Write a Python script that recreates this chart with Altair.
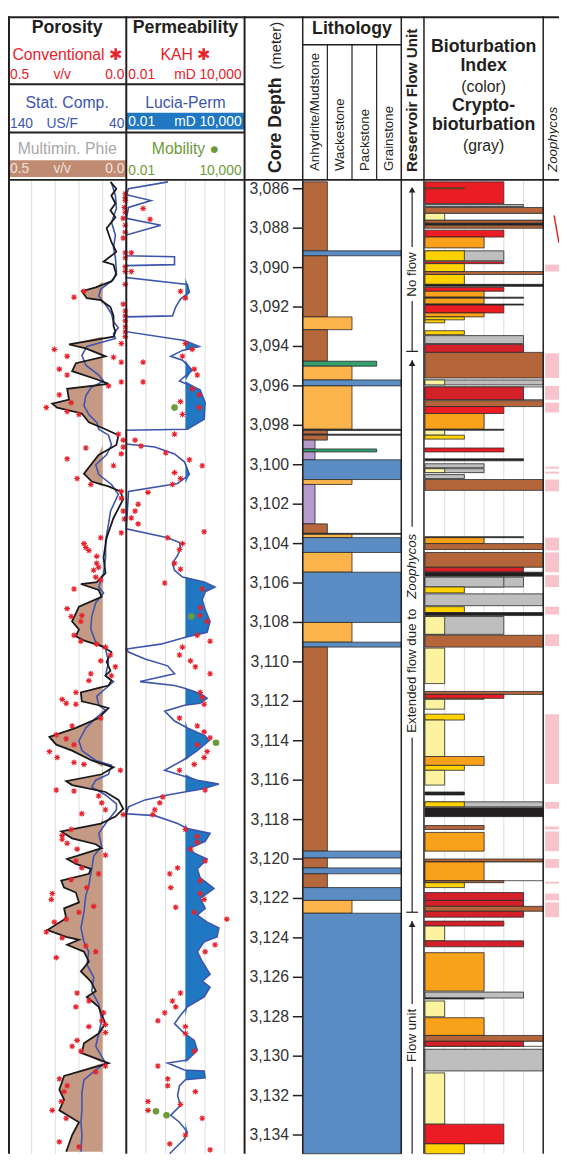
import altair as alt
import pandas as pd

# ---------------- data ----------------
# Multimineral effective porosity (v/v) - black curve
phie_depth = [3085.65, 3086.0, 3086.35, 3086.75, 3087.1, 3087.45, 3088.0, 3088.7, 3089.2, 3089.7, 3089.85, 3090.35,
              3090.7, 3091.0, 3091.2, 3091.55, 3091.65, 3092.0, 3092.45, 3092.95, 3093.25, 3093.5, 3093.9, 3094.1,
              3094.5, 3094.85, 3095.25, 3095.7, 3095.9, 3096.15, 3096.7, 3096.9, 3097.1, 3097.4, 3097.85, 3098.2,
              3098.5, 3099.0, 3099.5, 3100.45, 3100.85, 3101.1, 3101.35, 3101.75, 3102.7, 3103.7, 3104.7, 3105.5,
              3105.95, 3106.05, 3106.35, 3106.7, 3107.2, 3107.95, 3108.35, 3108.7, 3108.95, 3109.2, 3109.5, 3110.0,
              3110.45, 3110.7, 3110.95, 3111.2, 3111.55, 3112.0, 3112.2, 3112.35, 3112.85, 3113.35, 3113.8, 3114.2,
              3114.5, 3115.0, 3115.35, 3115.7, 3116.05, 3116.25, 3116.6, 3117.0, 3117.45, 3117.85, 3118.2, 3118.6,
              3118.95, 3119.25, 3119.45, 3120.0, 3120.25, 3120.5, 3120.75, 3121.1, 3121.45, 3121.7, 3122.2, 3122.5,
              3123.0, 3123.6, 3123.95, 3124.1, 3124.35, 3124.7, 3125.2, 3125.7, 3126.2, 3126.7, 3127.0, 3127.5,
              3128.35, 3128.85, 3129.35, 3129.85, 3130.35, 3131.0, 3131.7, 3132.2, 3132.75, 3133.35, 3134.0, 3134.85]
phie_val = [0.067, 0.042, 0.063, 0.046, 0.067, 0.046, 0.083, 0.063, 0.042, 0.096, 0.054, 0.042,
            0.063, 0.129, 0.188, 0.167, 0.108, 0.067, 0.054, 0.054, 0.046, 0.054, 0.242, 0.171,
            0.088, 0.213, 0.229, 0.117, 0.075, 0.25, 0.242, 0.313, 0.292, 0.188, 0.158, 0.088,
            0.033, 0.042, 0.117, 0.179, 0.146, 0.075, 0.025, 0.013, 0.054, 0.083, 0.096, 0.088,
            0.125, 0.192, 0.117, 0.104, 0.2, 0.229, 0.2, 0.213, 0.171, 0.104, 0.063, 0.083,
            0.067, 0.088, 0.063, 0.075, 0.192, 0.188, 0.117, 0.075, 0.117, 0.213, 0.325, 0.296,
            0.229, 0.146, 0.054, 0.104, 0.254, 0.229, 0.088, 0.033, 0.013, 0.046, 0.108, 0.275,
            0.229, 0.129, 0.104, 0.25, 0.213, 0.15, 0.158, 0.275, 0.263, 0.213, 0.2, 0.263,
            0.254, 0.333, 0.254, 0.2, 0.25, 0.179, 0.158, 0.192, 0.15, 0.129, 0.167, 0.117,
            0.088, 0.117, 0.179, 0.188, 0.075, 0.263, 0.283, 0.263, 0.283, 0.2, 0.229, 0.254]

# Statistical composite sonic (US/F) - blue curve in porosity track
sonic_depth = [3085.7, 3086.35, 3087.0, 3087.7, 3088.35, 3089.0, 3089.5, 3090.2, 3090.6, 3091.1, 3091.45, 3091.95,
               3092.35, 3092.75, 3093.05, 3093.35, 3093.6, 3094.0, 3094.45, 3094.95, 3095.45, 3095.75, 3096.1, 3096.5,
               3097.0, 3097.45, 3097.85, 3098.2, 3098.5, 3099.0, 3099.5, 3100.0, 3100.5, 3101.0, 3101.5, 3102.35,
               3103.0, 3103.85, 3104.7, 3105.5, 3106.2, 3106.5, 3107.0, 3107.7, 3108.35, 3109.0, 3109.35, 3110.0,
               3110.7, 3111.0, 3111.35, 3111.75, 3112.2, 3112.45, 3112.85, 3113.35, 3114.0, 3114.5, 3115.0, 3115.25,
               3115.7, 3116.0, 3116.35, 3116.75, 3117.2, 3117.5, 3118.2, 3118.7, 3119.35, 3119.85, 3120.5, 3121.35,
               3121.85, 3122.7, 3123.5, 3124.2, 3124.7, 3125.35, 3126.0, 3126.7, 3127.35, 3128.2, 3128.85, 3129.5,
               3130.35, 3130.7, 3131.2, 3131.85, 3132.7, 3133.35, 3134.0, 3134.85]
sonic_val = [52.5, 49.2, 48.3, 52.5, 49.2, 50.8, 49.2, 48.3, 50.8, 61.7, 63.3, 56.7,
             52.5, 50.8, 46.7, 50.8, 49.2, 73.3, 77.5, 74.2, 63.3, 59.2, 70.0, 74.2,
             75.8, 71.7, 65.0, 63.3, 55.0, 52.5, 56.7, 65.8, 63.3, 52.5, 46.7, 53.3,
             55.0, 57.5, 57.5, 59.2, 63.3, 59.2, 65.8, 69.2, 70.0, 65.8, 57.5, 55.0,
             57.5, 50.8, 57.5, 65.0, 63.3, 57.5, 65.8, 74.2, 80.0, 77.5, 65.8, 52.5,
             55.0, 65.8, 69.2, 57.5, 48.3, 48.3, 57.5, 63.3, 60.8, 67.5, 69.2, 71.7,
             74.2, 75.8, 78.3, 75.8, 71.7, 73.3, 67.5, 69.2, 63.3, 60.8, 63.3, 65.8,
             57.5, 65.8, 75.8, 77.5, 77.5, 78.3, 77.5, 78.3]

# Conventional core porosity (v/v) - red stars
core_por_depth = [3086.25, 3086.45, 3086.6, 3086.95, 3087.2, 3087.5, 3087.85, 3088.2, 3088.5, 3089.25, 3089.5, 3089.95,
                  3090.2, 3090.85, 3091.85, 3092.2, 3092.45, 3092.7, 3093.0, 3093.25, 3093.5, 3093.85, 3091.2, 3091.5,
                  3094.15, 3094.5, 3095.15, 3095.45, 3094.55, 3094.8, 3096.0, 3095.8, 3096.45, 3096.85, 3097.1, 3097.3,
                  3097.45, 3098.45, 3098.75, 3099.15, 3099.1, 3099.45, 3099.7, 3100.05, 3100.7, 3101.0, 3101.35, 3101.7,
                  3102.35, 3102.75, 3103.45, 3103.7, 3104.0, 3104.2, 3104.35, 3104.65, 3105.0, 3105.2, 3105.35, 3105.7,
                  3105.85, 3106.3, 3107.3, 3107.7, 3107.65, 3107.95, 3108.65, 3108.95, 3109.1, 3109.25, 3109.65, 3109.95,
                  3110.25, 3110.7, 3110.6, 3110.95, 3111.55, 3111.9, 3112.1, 3112.15, 3112.85, 3113.25, 3113.7, 3113.9,
                  3114.2, 3114.55, 3114.85, 3115.1, 3115.2, 3115.5, 3116.5, 3116.55, 3116.8, 3117.15, 3117.5, 3117.7,
                  3117.75, 3118.5, 3118.8, 3119.0, 3119.2, 3119.5, 3119.8, 3120.1, 3120.45, 3120.75, 3121.05, 3121.45,
                  3121.75, 3122.05, 3122.4, 3122.7, 3123.05, 3123.2, 3123.7, 3124.0, 3124.4, 3124.7, 3125.0, 3126.8,
                  3127.2, 3127.5, 3127.8, 3128.2, 3128.4, 3128.8, 3128.5, 3129.2, 3129.5, 3129.75, 3130.5, 3130.8,
                  3131.15, 3131.5, 3131.8, 3132.3, 3132.75, 3133.15, 3134.35, 3134.6]
core_por_val = [0.004, 0.004, 0.004, 0.008, 0.004, 0.013, 0.004, 0.004, 0.013, 0.004, 0.004, 0.004,
                0.004, 0.004, 0.013, 0.004, 0.004, 0.004, 0.004, 0.004, 0.004, 0.021, 0.179, 0.221,
                0.304, 0.25, 0.283, 0.25, 0.054, 0.021, 0.075, 0.021, 0.283, 0.233, 0.338, 0.25,
                0.2, 0.033, 0.013, 0.171, 0.013, 0.021, 0.25, 0.054, 0.208, 0.15, 0.021, 0.021,
                0.013, 0.008, 0.021, 0.108, 0.179, 0.171, 0.158, 0.125, 0.125, 0.117, 0.138, 0.129,
                0.108, 0.221, 0.25, 0.233, 0.188, 0.192, 0.221, 0.192, 0.125, 0.088, 0.067, 0.108,
                0.046, 0.063, 0.15, 0.158, 0.213, 0.271, 0.254, 0.213, 0.108, 0.229, 0.296, 0.254,
                0.221, 0.325, 0.292, 0.221, 0.179, 0.025, 0.296, 0.221, 0.117, 0.104, 0.088, 0.188,
                0.013, 0.233, 0.271, 0.271, 0.25, 0.208, 0.088, 0.213, 0.188, 0.117, 0.233, 0.167,
                0.313, 0.317, 0.138, 0.2, 0.254, 0.304, 0.338, 0.271, 0.171, 0.129, 0.296, 0.208,
                0.158, 0.213, 0.096, 0.104, 0.088, 0.088, 0.158, 0.208, 0.229, 0.192, 0.088, 0.129,
                0.283, 0.25, 0.263, 0.275, 0.313, 0.254, 0.283, 0.2]

# Lucia permeability (mD) - blue curve in permeability track
perm_depth = [3085.65, 3086.0, 3086.3, 3086.6, 3086.95, 3087.5, 3087.85, 3088.35, 3089.4, 3089.45, 3089.85, 3089.9,
              3090.5, 3090.85, 3091.25, 3091.6, 3092.0, 3092.45, 3092.5, 3093.25, 3093.7, 3094.0, 3094.2, 3094.5,
              3094.7, 3095.2, 3095.75, 3096.2, 3096.85, 3097.7, 3098.2, 3098.25, 3098.95, 3099.1, 3099.45, 3099.85,
              3100.5, 3100.95, 3101.35, 3103.25, 3103.7, 3103.95, 3104.25, 3104.6, 3105.0, 3105.35, 3105.7, 3105.95,
              3106.2, 3106.45, 3106.85, 3107.35, 3107.95, 3108.5, 3108.75, 3109.1, 3109.35, 3109.5, 3109.85, 3110.2,
              3110.6, 3111.0, 3111.2, 3111.35, 3111.6, 3111.85, 3112.1, 3112.2, 3112.5, 3113.0, 3113.35, 3113.75,
              3114.0, 3114.5, 3115.0, 3115.5, 3115.7, 3116.0, 3116.2, 3116.45, 3116.6, 3116.75, 3117.0, 3117.35,
              3117.7, 3117.8, 3118.2, 3118.45, 3118.7, 3119.1, 3119.45, 3119.7, 3120.0, 3120.5, 3120.95, 3121.5,
              3122.0, 3122.5, 3122.85, 3123.2, 3123.5, 3123.95, 3124.2, 3124.7, 3125.2, 3125.85, 3126.2, 3126.5,
              3127.0, 3127.5, 3128.0, 3128.35, 3128.85, 3129.2, 3129.7, 3130.2, 3130.35, 3130.7, 3130.75, 3131.1,
              3131.2, 3131.5, 3132.0, 3132.5, 3133.0, 3133.35, 3133.85, 3134.2, 3134.7, 3134.95]
perm_val = [1.3, 0.013, 0.01, 0.18, 0.013, 0.01, 0.56, 0.01, 0.01, 2.8, 2.8, 0.01,
            0.01, 12.6, 16, 5.6, 3.2, 2.2, 0.01, 0.01, 8.9, 50, 7.1, 1.8,
            7.1, 22, 5, 56, 100, 89, 12.6, 0.01, 0.01, 0.28, 2.8, 8.9,
            16, 4, 0.013, 0.01, 1.26, 5, 5.6, 4, 2.2, 2.8, 7.1, 89,
            316, 100, 71, 100, 178, 126, 10, 0.56, 0.01, 0.013, 0.089, 1.26,
            2.8, 0.05, 2.8, 10, 56, 126, 56, 8.9, 0.89, 2.8, 12.6, 100,
            158, 40, 7.1, 0.89, 4, 40, 500, 71, 8.9, 1.26, 0.089, 0.013,
            0.01, 0.28, 4, 12.6, 178, 100, 16, 28, 126, 40, 56, 282,
            56, 100, 40, 126, 500, 400, 89, 40, 71, 178, 71, 178,
            89, 12.6, 5, 2.8, 8.9, 28, 40, 12.6, 1.26, 8.9, 89, 100,
            10, 5, 4, 5.6, 1.8, 5, 12.6, 8.9, 2.8, 1.6]

# KAH core permeability (mD) - red stars
kah_depth = [3087.0, 3087.55, 3089.25, 3090.2, 3091.2, 3091.55, 3093.85, 3094.15, 3094.5, 3094.8, 3095.15, 3095.45,
             3095.8, 3096.15, 3096.45, 3096.8, 3097.45, 3097.1, 3098.45, 3098.75, 3099.05, 3099.4, 3099.75, 3100.05,
             3100.4, 3100.7, 3101.0, 3101.4, 3102.0, 3102.35, 3102.7, 3103.0, 3103.4, 3103.7, 3104.0, 3104.3,
             3105.0, 3105.3, 3106.0, 3106.3, 3107.25, 3107.65, 3107.95, 3108.65, 3108.95, 3109.25, 3109.65, 3109.95,
             3110.25, 3110.6, 3111.55, 3111.8, 3112.15, 3112.85, 3113.25, 3113.55, 3113.85, 3114.2, 3114.55, 3114.85,
             3115.2, 3115.5, 3116.5, 3116.85, 3117.15, 3117.5, 3117.75, 3118.5, 3118.85, 3119.15, 3119.5, 3120.45,
             3120.75, 3120.1, 3121.45, 3121.1, 3121.75, 3122.05, 3122.45, 3122.7, 3123.05, 3124.35, 3124.7, 3126.8,
             3127.2, 3127.5, 3127.8, 3128.2, 3128.5, 3128.85, 3129.75, 3130.5, 3131.15, 3131.5, 3131.8, 3132.3,
             3132.45, 3132.75, 3133.15, 3134.0, 3134.45, 3134.75]
kah_val = [0.071, 0.16, 0.018, 0.018, 5.6, 10, 10, 22, 7.1, 0.071, 28, 40,
           0.071, 22, 50, 5.6, 7.1, 50, 2.8, 0.028, 0.056, 1, 16, 71,
           2.8, 5.6, 2.2, 0.126, 0.04, 0.028, 0.018, 0.04, 89, 1.26, 7.1, 5,
           2.8, 5.6, 0.89, 71, 56, 56, 126, 40, 178, 7.1, 5, 18,
           32, 178, 56, 71, 89, 5, 40, 89, 178, 40, 126, 89,
           28, 5, 100, 0.71, 0.5, 0.28, 0.22, 10, 40, 40, 18, 4,
           1.6, 100, 1.8, 56, 56, 89, 3.2, 28, 1260, 316, 100, 5.6,
           2.2, 3.2, 0.89, 0.4, 10, 10, 28, 0.4, 1.26, 1.26, 32, 0.126,
           5.6, 0.126, 71, 10, 1.6, 178]

# Mobility (green dots)
mob_depth = [3097.1, 3107.7, 3114.1, 3132.8, 3133.0]
mob_val = [2.8, 20, 355, 0.32, 1.1]

# Lithology intervals: M mudstone, W wackestone, S green packstone-width bed, G grainstone, A anhydrite, K dark seam
lith_top = [3085.65, 3089.15, 3089.4, 3092.5, 3093.15, 3094.75, 3095.0, 3095.7, 3096.0, 3098.2, 3098.26, 3098.45,
            3098.5, 3098.75, 3099.2, 3099.35, 3099.75, 3100.75, 3101.0, 3103.0, 3103.48, 3103.53, 3103.7, 3104.45,
            3105.45, 3108.0, 3109.0, 3109.25, 3119.6, 3119.95, 3120.45, 3120.75, 3121.45, 3122.1, 3122.75]
lith_base = [3089.15, 3089.4, 3092.5, 3093.15, 3094.75, 3095.0, 3095.7, 3096.0, 3098.2, 3098.26, 3098.45, 3098.5,
             3098.75, 3099.2, 3099.35, 3099.75, 3100.75, 3101.0, 3103.0, 3103.48, 3103.53, 3103.7, 3104.45, 3105.45,
             3108.0, 3109.0, 3109.25, 3119.6, 3119.95, 3120.45, 3120.75, 3121.45, 3122.1, 3122.75, 3134.95]
lith_code = ["M", "G", "M", "W", "M", "S", "W", "G", "W", "K", "M", "K",
             "M", "A", "S", "A", "G", "W", "A", "M", "K", "W", "G", "W",
             "G", "W", "G", "M", "G", "M", "G", "M", "G", "W", "G"]
lith_rank = {"A": 0.5, "M": 1, "W": 2, "S": 3, "G": 4, "K": 4}

# Bioturbation index bars (top, base, index, colour class)
bio_top = [3085.65, 3085.95, 3086.8, 3086.95, 3087.25, 3087.25, 3087.6, 3087.75, 3087.85, 3088.1, 3088.45, 3089.15,
           3089.15, 3089.7, 3089.8, 3090.2, 3090.35, 3090.85, 3091.0, 3091.2, 3091.5, 3091.55, 3091.85, 3091.9,
           3092.3, 3092.5, 3092.65, 3093.2, 3093.45, 3093.9, 3094.3, 3095.7, 3095.7, 3096.05, 3096.05, 3096.75,
           3097.05, 3097.4, 3098.2, 3098.25, 3098.5, 3099.15, 3099.7, 3099.95, 3100.2, 3100.2, 3100.5, 3100.75,
           3103.65, 3103.7, 3104.0, 3104.45, 3105.2, 3105.45, 3105.7, 3105.7, 3106.2, 3106.55, 3107.2, 3107.5,
           3107.7, 3107.7, 3108.65, 3109.3, 3111.5, 3111.65, 3111.85, 3111.9, 3112.65, 3112.95, 3114.8, 3115.25,
           3115.5, 3116.6, 3117.1, 3117.1, 3117.4, 3118.3, 3118.65, 3120.0, 3120.15, 3120.15, 3121.1, 3121.2,
           3121.7, 3122.1, 3122.4, 3122.65, 3123.15, 3123.4, 3124.15, 3124.75, 3126.75, 3127.05, 3127.2, 3128.05,
           3128.95, 3129.25, 3129.25, 3129.65, 3130.85, 3133.45, 3134.45]
bio_base = [3086.75, 3086.0, 3086.9, 3087.25, 3087.6, 3087.6, 3087.75, 3087.85, 3088.0, 3088.45, 3089.0, 3089.65,
            3089.65, 3089.8, 3090.2, 3090.35, 3090.85, 3090.95, 3091.2, 3091.5, 3091.55, 3091.85, 3091.9, 3092.3,
            3092.5, 3092.65, 3092.8, 3093.4, 3093.85, 3094.3, 3095.6, 3095.95, 3095.95, 3096.7, 3096.7, 3097.05,
            3097.4, 3098.2, 3098.25, 3098.5, 3098.7, 3099.35, 3099.8, 3100.15, 3100.4, 3100.4, 3100.7, 3101.3,
            3103.7, 3104.0, 3104.3, 3105.2, 3105.45, 3105.65, 3106.2, 3106.2, 3106.5, 3107.15, 3107.5, 3107.65,
            3108.6, 3108.6, 3109.25, 3111.1, 3111.65, 3111.85, 3111.9, 3112.4, 3112.95, 3114.8, 3115.25, 3115.5,
            3116.25, 3116.75, 3117.35, 3117.35, 3117.85, 3118.5, 3119.6, 3120.15, 3121.1, 3121.1, 3121.2, 3121.45,
            3122.1, 3122.4, 3122.65, 3122.95, 3123.4, 3124.15, 3124.45, 3126.7, 3127.05, 3127.1, 3128.0, 3128.95,
            3129.25, 3129.5, 3129.5, 3130.75, 3133.45, 3134.45, 3134.95]
bio_index = [4, 2, 5, 6, 6, 1, 6, 6, 6, 4, 3, 4,
             2, 4, 2, 6, 2, 6, 4, 3, 5, 3, 5, 4,
             3, 2, 1, 2, 5, 5, 6, 6, 1, 6, 5, 6,
             4, 3, 4, 1, 2, 4, 5, 3, 3, 1, 2, 6,
             5, 3, 6, 6, 5, 6, 5, 4, 2, 6, 2, 6,
             4, 1, 6, 1, 6, 4, 3, 1, 2, 1, 3, 2,
             1, 2, 6, 2, 6, 3, 3, 6, 6, 3, 4, 2,
             5, 5, 6, 5, 4, 1, 5, 3, 5, 3, 1, 3,
             6, 6, 5, 6, 1, 4, 2]
bio_color = ["r", "o", "g", "b", "w", "p", "b", "k", "b", "r", "o", "g",
             "y", "r", "y", "b", "y", "k", "r", "o", "k", "o", "k", "r",
             "o", "y", "y", "y", "g", "d", "b", "g", "p", "w", "d", "b",
             "r", "o", "k", "p", "y", "r", "k", "g", "g", "p", "g", "b",
             "k", "o", "b", "b", "d", "k", "g", "g", "y", "g", "y", "k",
             "g", "p", "b", "p", "b", "r", "o", "p", "y", "p", "o", "y",
             "p", "k", "g", "y", "k", "b", "o", "b", "w", "o", "b", "y",
             "d", "d", "b", "d", "d", "p", "d", "o", "g", "k", "p", "o",
             "b", "w", "d", "g", "p", "r", "y"]

# Zoophycos occurrences (pink)
zoo_top = [3089.85, 3094.35, 3096.0, 3096.85, 3100.1, 3100.35, 3100.75, 3103.7, 3104.45, 3105.6, 3107.2, 3108.6,
           3112.65, 3117.1, 3118.35, 3118.6, 3120.0, 3121.15, 3121.75, 3122.2]
zoo_base = [3090.2, 3095.6, 3096.7, 3097.35, 3100.2, 3100.45, 3101.35, 3104.35, 3105.45, 3106.2, 3107.6, 3109.2,
            3116.2, 3117.45, 3118.5, 3119.6, 3120.45, 3121.25, 3122.1, 3122.95]
zc_depth = [3087.35, 3088.75]
zc_val = [0.225, 0.35]

depth_ticks = list(range(3086, 3135, 2))
por_grid = [0.4, 0.3, 0.2, 0.1]
perm_grid = [0.1, 1, 10, 100, 1000]
bio_grid = [1, 2, 3, 4, 5]

# ---------------- styling ----------------
FONT = "Liberation Sans"
DARK = "#231F20"
RED = "#E8212B"
BLUE = "#3D55AD"
PFILL = "#1F78C1"
PHIFILL = "#C59A84"
GREEN = "#6C9B3B"
GRID = "#DCDCDC"
PINK = "#F8C3CA"

ysc = alt.Scale(domain=[3085.65, 3134.95], range=[168, 1154], nice=False, zero=False)
por_sc = alt.Scale(domain=[0.5, 0.0], range=[0, 120], nice=False, zero=False)
son_sc = alt.Scale(domain=[140, 40], range=[0, 120], nice=False, zero=False)
perm_sc = alt.Scale(type="log", domain=[0.01, 10000], range=[120, 240], nice=False)
lith_sc = alt.Scale(domain=[0, 4], range=[299, 399], nice=False, zero=False)
bio_sc = alt.Scale(domain=[0, 6], range=[423, 543], nice=False, zero=False)
zoo_sc = alt.Scale(domain=[0, 1], range=[545, 561], nice=False, zero=False)
zc_sc = alt.Scale(domain=[0, 1], range=[545, 585], nice=False, zero=False)

def Y(f):
    return alt.Y(f, type="quantitative", scale=ysc, axis=None)

one = pd.DataFrame({"k": [0]})

def txt(x, y, s, size=14, color=DARK, weight="normal", align="center", angle=0, style="normal"):
    return alt.Chart(one).mark_text(fontSize=size, color=color, fontWeight=weight, align=align,
                                    angle=angle, fontStyle=style, baseline="middle", font=FONT).encode(
        x=alt.value(x), y=alt.value(y), text=alt.value(s))

def seg(x1, y1, x2, y2, color=DARK, w=1.5):
    return alt.Chart(one).mark_rule(color=color, strokeWidth=w).encode(
        x=alt.value(x1), y=alt.value(y1), x2=alt.value(x2), y2=alt.value(y2))

def box(x1, y1, x2, y2, color):
    return alt.Chart(one).mark_rect(color=color).encode(
        x=alt.value(x1), y=alt.value(y1), x2=alt.value(x2), y2=alt.value(y2))

phie_df = pd.DataFrame({"depth": phie_depth, "phie": phie_val})
sonic_df = pd.DataFrame({"depth": sonic_depth, "dt": sonic_val})
cpor_df = pd.DataFrame({"depth": core_por_depth, "por": core_por_val})
perm_df = pd.DataFrame({"depth": perm_depth, "k": perm_val})
kah_df = pd.DataFrame({"depth": kah_depth, "k": kah_val})
mob_df = pd.DataFrame({"depth": mob_depth, "k": mob_val})
lith_df = pd.DataFrame({"top": lith_top, "base": lith_base, "code": lith_code})
lith_df["rank"] = lith_df["code"].map(lith_rank)
lith_df["zero"] = 0
bio_df = pd.DataFrame({"top": bio_top, "base": bio_base, "idx": bio_index, "col": bio_color})
bio_df["zero"] = 0
zoo_df = pd.DataFrame({"top": zoo_top, "base": zoo_base})
zc_df = pd.DataFrame({"depth": zc_depth, "v": zc_val})
tick_df = pd.DataFrame({"depth": depth_ticks})

STAR = "M-1,0L1,0M0,-1L0,1M-0.72,-0.72L0.72,0.72M-0.72,0.72L0.72,-0.72"

layers = []
# grids
layers.append(alt.Chart(pd.DataFrame({"v": por_grid})).mark_rule(color=GRID, strokeWidth=1).encode(
    x=alt.X("v:Q", scale=por_sc, axis=None), y=alt.value(167), y2=alt.value(1154)))
layers.append(alt.Chart(pd.DataFrame({"v": perm_grid})).mark_rule(color=GRID, strokeWidth=1).encode(
    x=alt.X("v:Q", scale=perm_sc, axis=None), y=alt.value(167), y2=alt.value(1154)))
layers.append(alt.Chart(pd.DataFrame({"v": bio_grid})).mark_rule(color=GRID, strokeWidth=1).encode(
    x=alt.X("v:Q", scale=bio_sc, axis=None), y=alt.value(167), y2=alt.value(1154)))
# zoophycos
layers.append(alt.Chart(zoo_df).transform_calculate(a="0", b="1").mark_rect(color=PINK, clip=True).encode(
    y=Y("top"), y2="base", x=alt.X("a:Q", scale=zoo_sc, axis=None), x2="b:Q"))
layers.append(alt.Chart(zc_df).mark_line(color=RED, strokeWidth=1.5, clip=True).encode(
    y=Y("depth"), x=alt.X("v:Q", scale=zc_sc, axis=None), order=alt.Order("depth:Q")))
# fills
layers.append(alt.Chart(phie_df).transform_calculate(f="max(datum.phie, 0.1)", c="0.1").mark_area(
    orient="horizontal", color=PHIFILL).encode(
    y=Y("depth"), x=alt.X("f:Q", scale=por_sc, axis=None), x2="c:Q"))
layers.append(alt.Chart(perm_df).transform_calculate(f="max(datum.k, 10)", c="10").mark_area(
    orient="horizontal", color=PFILL).encode(
    y=Y("depth"), x=alt.X("f:Q", scale=perm_sc, axis=None), x2="c:Q"))
# curves
layers.append(alt.Chart(sonic_df).mark_line(color=BLUE, strokeWidth=1.6).encode(
    y=Y("depth"), x=alt.X("dt:Q", scale=son_sc, axis=None), order=alt.Order("depth:Q")))
layers.append(alt.Chart(phie_df).mark_line(color="#1a1a1a", strokeWidth=1.8).encode(
    y=Y("depth"), x=alt.X("phie:Q", scale=por_sc, axis=None), order=alt.Order("depth:Q")))
layers.append(alt.Chart(perm_df).mark_line(color=BLUE, strokeWidth=1.6).encode(
    y=Y("depth"), x=alt.X("k:Q", scale=perm_sc, axis=None), order=alt.Order("depth:Q")))
# points
layers.append(alt.Chart(cpor_df).mark_point(shape=STAR, size=34, filled=False, stroke=RED, strokeWidth=1.1, opacity=1).encode(
    y=Y("depth"), x=alt.X("por:Q", scale=por_sc, axis=None)))
layers.append(alt.Chart(kah_df).mark_point(shape=STAR, size=34, filled=False, stroke=RED, strokeWidth=1.1, opacity=1).encode(
    y=Y("depth"), x=alt.X("k:Q", scale=perm_sc, axis=None)))
layers.append(alt.Chart(mob_df).mark_circle(size=45, color=GREEN, opacity=1).encode(
    y=Y("depth"), x=alt.X("k:Q", scale=perm_sc, axis=None)))
# lithology
layers.append(alt.Chart(lith_df).mark_rect(stroke="#2a2a2a", strokeWidth=0.8).encode(
    y=Y("top"), y2="base", x=alt.X("zero:Q", scale=lith_sc, axis=None), x2="rank:Q",
    color=alt.Color("code:N", legend=None, scale=alt.Scale(
        domain=["M", "W", "S", "G", "A", "K"],
        range=["#B5683C", "#FBB44C", "#34A070", "#5B8DC4", "#B49BCB", "#2a2a2a"]))))
# bioturbation
layers.append(alt.Chart(bio_df).mark_rect(stroke="#2a2a2a", strokeWidth=0.8).encode(
    y=Y("top"), y2="base", x=alt.X("zero:Q", scale=bio_sc, axis=None), x2="idx:Q",
    color=alt.Color("col:N", legend=None, scale=alt.Scale(
        domain=["p", "y", "o", "r", "d", "b", "g", "k", "w"],
        range=["#FBF3A0", "#FFD200", "#F9A11B", "#EC1C24", "#D42129", "#B4663A", "#BEBEBE", "#231F20", "#FFFFFF"]))))
# depth axis
layers.append(alt.Chart(tick_df).mark_text(align="right", baseline="middle", fontSize=16, font=FONT, color="#333").encode(
    y=Y("depth"), x=alt.value(285), text=alt.Text("depth:Q", format=",")))
layers.append(alt.Chart(tick_df).mark_rule(color=DARK, strokeWidth=1.5).encode(
    y=Y("depth"), x=alt.value(289), x2=alt.value(299)))

# reservoir flow unit column
FX = 410
for a, b in [(177, 234), (289, 340), (349, 518), (732, 909), (918, 1002), (1066, 1154)]:
    layers.append(seg(FX, a, FX, b, w=1.2))
for yy in [340, 909]:
    layers.append(seg(FX - 6, yy, FX + 6, yy, w=1.2))
for yy in [176, 352, 921]:
    layers.append(alt.Chart(one).mark_point(shape="triangle-up", size=45, filled=True, color=DARK, opacity=1).encode(
        x=alt.value(FX), y=alt.value(yy)))
layers.append(txt(FX, 262, "No flow", size=13.5, angle=270))
layers.append(txt(FX, 727, "Extended flow due to ", size=13.5, angle=270, align="left"))
layers.append(txt(FX, 591, "Zoophycos", size=13.5, angle=270, align="left", style="italic"))
layers.append(txt(FX, 1034, "Flow unit", size=13.5, angle=270))

# header: porosity
layers.append(box(0, 146, 120, 163, "#C08B73"))
layers.append(box(120, 98, 240, 115, "#1F78C1"))
layers.append(txt(60, 12, "Porosity", size=18, weight="bold"))
layers.append(txt(60, 39, "Conventional \u2731", size=16, color=RED))
layers.append(txt(2, 60, "0.5", size=14, color=RED, align="left"))
layers.append(txt(55, 60, "v/v", size=14, color=RED))
layers.append(txt(118, 60, "0.0", size=14, color=RED, align="right"))
layers.append(txt(60, 88, "Stat. Comp.", size=16, color=BLUE))
layers.append(txt(2, 109, "140", size=14, color=BLUE, align="left"))
layers.append(txt(55, 109, "US/F", size=14, color=BLUE))
layers.append(txt(118, 109, "40", size=14, color=BLUE, align="right"))
layers.append(txt(60, 135, "Multimin. Phie", size=16, color="#A8A8A8"))
layers.append(txt(2, 155, "0.5", size=14, color="#F1E2DA", align="left"))
layers.append(txt(55, 155, "v/v", size=14, color="#F1E2DA"))
layers.append(txt(118, 155, "0.0", size=14, color="#F1E2DA", align="right"))
# header: permeability
layers.append(txt(180, 12, "Permeability", size=18, weight="bold"))
layers.append(txt(180, 39, "KAH \u2731", size=16, color=RED))
layers.append(txt(122, 60, "0.01", size=14, color=RED, align="left"))
layers.append(txt(237, 60, "mD 10,000", size=14, color=RED, align="right"))
layers.append(txt(180, 88, "Lucia-Perm", size=16, color=BLUE))
layers.append(txt(122, 107, "0.01", size=14, color="white", align="left"))
layers.append(txt(237, 107, "mD 10,000", size=14, color="white", align="right"))
layers.append(txt(180, 135, "Mobility \u25CF", size=16, color=GREEN))
layers.append(txt(122, 157, "0.01", size=14, color=GREEN, align="left"))
layers.append(txt(237, 157, "10,000", size=14, color=GREEN, align="right"))
# header: depth
layers.append(txt(272, 159, "Core Depth", size=18, weight="bold", angle=270, align="left"))
layers.append(txt(272, 54, "(meter)", size=15, angle=270, align="left"))
# header: lithology
layers.append(txt(349, 13, "Lithology", size=18, weight="bold"))
for xx, s in zip([312, 337, 362, 387], ["Anhydrite/Mudstone", "Wackestone", "Packstone", "Grainstone"]):
    layers.append(txt(xx, 157, s, size=13.5, angle=270, align="left"))
layers.append(txt(410, 158, "Reservoir Flow Unit", size=15.5, weight="bold", angle=270, align="left"))
# header: bioturbation
BX = 482.5
layers.append(txt(BX, 31, "Bioturbation", size=18, weight="bold"))
layers.append(txt(BX, 51, "Index", size=18, weight="bold"))
layers.append(txt(BX, 72, "(color)", size=16))
layers.append(txt(BX, 91, "Crypto-", size=18, weight="bold"))
layers.append(txt(BX, 110, "bioturbation", size=18, weight="bold"))
layers.append(txt(BX, 132, "(gray)", size=16))
layers.append(txt(553, 158, "Zoophycos", size=13.5, angle=270, align="left", style="italic"))

# borders
for xx in [1, 120, 240, 299, 399, 422, 543]:
    layers.append(seg(xx, 0, xx, 1154, w=2 if xx in (1, 120, 240) else 1.5))
layers.append(seg(0, 1, 559, 1, w=2))
layers.append(seg(0, 166, 559, 166, w=2))
layers.append(seg(0, 69, 240, 69, w=2))
layers.append(seg(0, 118, 240, 118, w=2))
layers.append(seg(299, 29, 399, 29, w=1.5))
for xx in [324, 349, 374]:
    layers.append(seg(xx, 29, xx, 166, w=1.2))

chart = alt.layer(*layers).resolve_scale(x="independent", color="independent").properties(
    width=559, height=1154, padding=0, autosize="none"
).configure_view(stroke=None)

chart.save("out.html", embed_options={"renderer": "svg", "actions": False})
